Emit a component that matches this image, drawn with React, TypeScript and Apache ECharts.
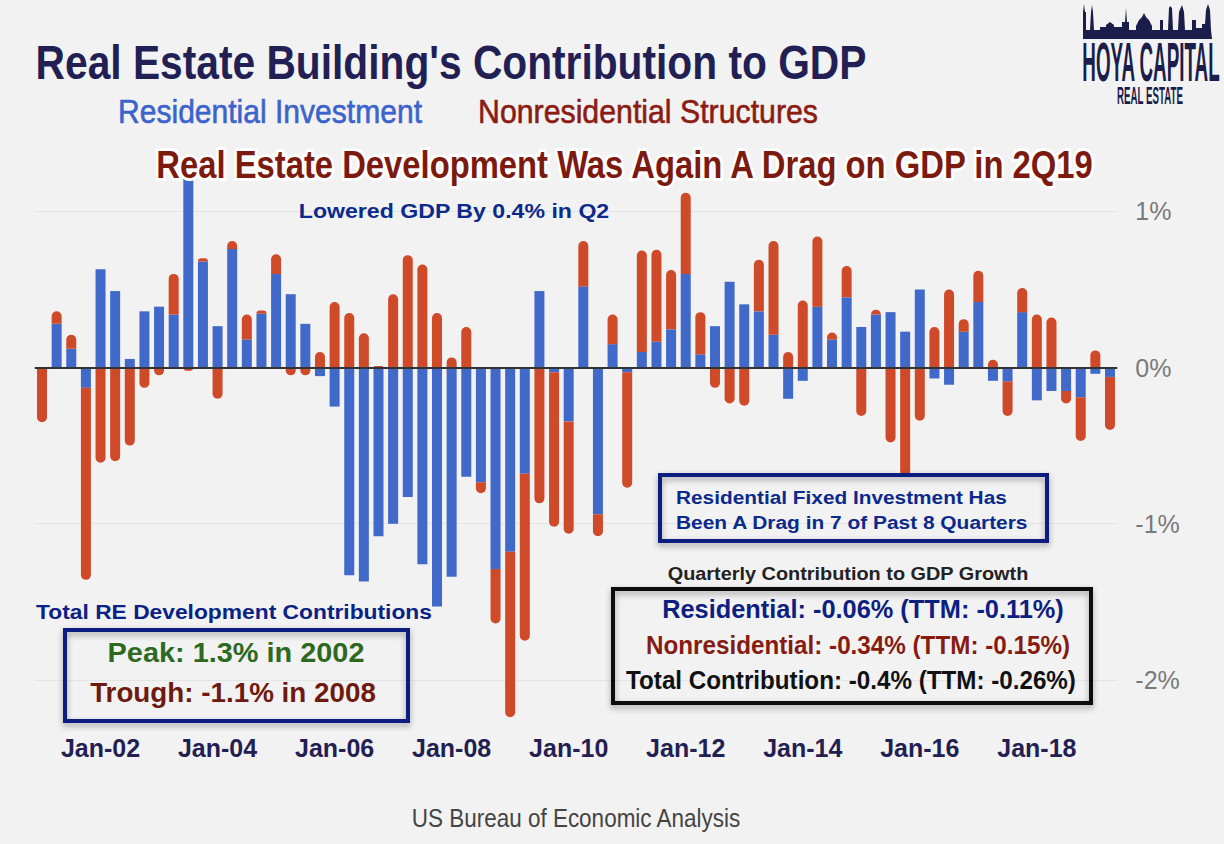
import React, { useEffect, useRef } from "react";
import * as echarts from "echarts";

// ---------- data ----------
const startYear = 2001;
const quarterMonths = ["Jan", "Apr", "Jul", "Oct"];
const seriesNames = ["Residential Investment", "Nonresidential Structures"];

// contribution to GDP growth, percentage points, 2001Q1 .. 2019Q2
const residential = [
  0.0, 0.28, 0.12, -0.13, 0.63, 0.49, 0.055, 0.36, 0.39, 0.34,
  1.3, 0.68, 0.265, 0.76, 0.18, 0.345, 0.6, 0.47, 0.28, -0.055,
  -0.25, -1.33, -1.37, -1.08, -1.0, -0.83, -1.26, -1.53, -1.34, -0.7,
  -0.735, -1.29, -1.18, -0.68, 0.49, -0.03, -0.345, 0.52, -0.94, 0.15,
  -0.03, 0.1, 0.165, 0.245, 0.6, 0.085, 0.265, 0.55, 0.405, 0.36,
  0.21, -0.2, -0.085, 0.39, 0.18, 0.45, 0.26, 0.34, 0.355, 0.23,
  0.5, -0.07, -0.11, 0.23, 0.42, -0.085, -0.09, 0.355, -0.21, -0.15,
  -0.15, -0.19, -0.04, -0.06,
];
const nonresidential = [
  -0.35, 0.08, 0.09, -1.23, -0.61, -0.6, -0.5, -0.13, -0.05, 0.26,
  -0.02, 0.02, -0.2, 0.05, 0.16, 0.02, 0.125, -0.05, -0.05, 0.1,
  0.42, 0.35, 0.22, 0.01, 0.47, 0.72, 0.66, 0.35, 0.065, 0.26,
  -0.07, -0.35, -1.06, -1.07, -0.87, -0.99, -0.72, 0.29, -0.14, 0.19,
  -0.74, 0.65, 0.59, 0.38, 0.52, 0.27, -0.13, -0.23, -0.245, 0.33,
  0.6, 0.1, 0.43, 0.45, 0.045, 0.2, -0.31, 0.03, -0.48, -0.7,
  -0.34, 0.26, 0.5, 0.08, 0.2, 0.05, -0.22, 0.155, 0.34, 0.32,
  -0.08, -0.28, 0.11, -0.34,
];
const yTickValues = [-2, -1, 0, 1];
const yMin = -2.3;
const yMax = 1.4;

const categories = residential.map(
  (_, i) =>
    `${quarterMonths[i % 4]}-${String((startYear + Math.floor(i / 4)) % 100).padStart(2, "0")}`
);

// ---------- helpers ----------
const BASE_FAMILY = "'Liberation Sans', Arial, Helvetica, sans-serif";

let measureCtx: CanvasRenderingContext2D | null = null;
function measure(text: string, font: string): number {
  if (!measureCtx) measureCtx = document.createElement("canvas").getContext("2d");
  if (!measureCtx) return 1;
  measureCtx.font = font;
  return measureCtx.measureText(text).width || 1;
}

function fitText(
  text: string,
  x: number,
  y: number,
  width: number,
  size: number,
  weight: string,
  color: string,
  align: "left" | "center" = "center",
  extra: any = {}
) {
  const font = `${weight} ${size}px ${BASE_FAMILY}`;
  const w = measure(text, font);
  return {
    type: "text",
    x,
    y,
    scaleX: width / w,
    z: 100,
    style: {
      text,
      fill: color,
      fontSize: size,
      fontWeight: weight,
      fontFamily: BASE_FAMILY,
      textAlign: align,
      textVerticalAlign: "middle",
      ...extra,
    },
  };
}

function box(x: number, y: number, w: number, h: number, color: string) {
  return {
    type: "rect",
    z: 90,
    shape: { x, y, width: w, height: h },
    style: {
      fill: "transparent",
      stroke: color,
      lineWidth: 4,
      shadowBlur: 6,
      shadowColor: "rgba(0,0,0,0.35)",
      shadowOffsetY: 3,
    },
  };
}

const skyline = [
  [1083, 39], [1083, 12], [1084, 4], [1085, 12], [1086, 12], [1086, 30], [1090, 30], [1091, 12],
  [1092, 5], [1093, 12], [1094, 30], [1100, 30], [1100, 27], [1106, 27], [1106, 25], [1110, 22],
  [1114, 25], [1114, 27], [1122, 27], [1122, 22], [1125, 22], [1126, 8], [1127, 22], [1129, 22],
  [1129, 30], [1136, 30], [1136, 26], [1139, 20], [1142, 17], [1144, 13], [1146, 17], [1149, 20],
  [1152, 26], [1152, 30], [1160, 30], [1160, 20], [1163, 20], [1163, 30], [1168, 30], [1169, 8],
  [1170, 6], [1172, 8], [1173, 30], [1178, 30], [1179, 12], [1182, 5], [1184, 12], [1185, 30],
  [1192, 30], [1192, 20], [1196, 20], [1196, 28], [1202, 28], [1202, 24], [1205, 24], [1206, 10],
  [1208, 4], [1210, 10], [1211, 30], [1212, 39],
];

export default function App() {
  const ref = useRef<HTMLDivElement>(null);

  useEffect(() => {
    if (!ref.current) return;
    const chart = echarts.init(ref.current, undefined, { renderer: "svg" });

    const splitColors: string[] = [];
    for (let i = 0; i < 10; i++) splitColors.push("transparent");
    // lines at integer percents: index of -2 from -2.3 is 3, then every 10
    splitColors[Math.round((yTickValues[0] - yMin) / 0.1) % 10] = "#e4e4e4";

    const option: any = {
      animation: false,
      backgroundColor: "#f2f2f2",
      grid: { left: 34.7, right: 106.7, top: 149, bottom: 117.4, containLabel: false },
      xAxis: {
        type: "category",
        data: categories,
        axisLine: { show: false },
        axisTick: { show: false },
        splitLine: { show: false },
        axisLabel: {
          interval: (i: number) => i % 8 === 4,
          color: "#241f52",
          fontWeight: "bold",
          fontSize: 25,
          fontFamily: BASE_FAMILY,
          margin: 9,
        },
      },
      yAxis: {
        type: "value",
        position: "right",
        min: yMin,
        max: yMax,
        interval: 0.1,
        axisLine: { show: false },
        axisTick: { show: false },
        splitLine: { show: true, lineStyle: { color: splitColors, width: 1 } },
        axisLabel: {
          margin: 18,
          color: "#7a7a7a",
          fontSize: 25,
          fontFamily: BASE_FAMILY,
          formatter: (v: number) => {
            const r = Math.round(v);
            return Math.abs(v - r) < 1e-6 && yTickValues.indexOf(r) >= 0 ? `${r}%` : "";
          },
        },
      },
      series: [
        {
          name: seriesNames[0],
          type: "bar",
          stack: "re",
          barWidth: 10,
          data: residential,
          itemStyle: { color: "#4169c9" },
        },
        {
          name: seriesNames[1],
          type: "bar",
          stack: "re",
          barWidth: 10,
          data: nonresidential.map((v) => ({
            value: v,
            itemStyle: { borderRadius: v >= 0 ? [5, 5, 0, 0] : [0, 0, 5, 5] },
          })),
          itemStyle: { color: "#cf4a29" },
          markLine: {
            silent: true,
            symbol: "none",
            label: { show: false },
            lineStyle: { color: "#333333", width: 2, type: "solid" },
            data: [{ yAxis: 0 }],
          },
        },
      ],
      graphic: [
        // title & legend-like subtitles
        fitText("Real Estate Building's Contribution to GDP", 451, 62, 831, 49, "bold", "#221f55"),
        fitText(seriesNames[0], 270, 112, 304, 33, "normal", "#3c63cb", "center", { stroke: "#3c63cb", lineWidth: 0.6 }),
        fitText(seriesNames[1], 648, 112, 340, 33, "normal", "#8b1c13", "center", { stroke: "#8b1c13", lineWidth: 0.6 }),
        fitText("Real Estate Development Was Again A Drag on GDP in 2Q19", 624.5, 165, 941, 38, "bold", "#7d1a0f", "center", {
          stroke: "#ffffff",
          lineWidth: 6,
          shadowBlur: 5,
          shadowColor: "rgba(0,0,0,0.45)",
          shadowOffsetY: 2,
        }),
        fitText("Lowered GDP By 0.4% in Q2", 454, 211, 311, 21, "bold", "#0c2a8c"),
        // left annotation
        fitText("Total RE Development Contributions", 234, 612, 396, 20, "bold", "#0a2285"),
        box(65, 630, 343, 91, "#0d1e80"),
        fitText("Peak: 1.3% in 2002", 236, 653, 257, 27, "bold", "#2d6a1f"),
        fitText("Trough: -1.1% in 2008", 233, 693, 286, 27, "bold", "#6e1a0e"),
        // right annotations
        box(660, 475, 387, 66, "#0d1e80"),
        fitText("Residential Fixed Investment Has", 676, 497, 331, 19, "bold", "#0b2a8c", "left"),
        fitText("Been A Drag in 7 of Past 8 Quarters", 676, 522, 353, 19, "bold", "#0b2a8c", "left"),
        fitText("Quarterly Contribution to GDP Growth", 848, 573, 361, 19, "bold", "#222222"),
        box(613, 589, 478, 114, "#111111"),
        fitText("Residential: -0.06% (TTM: -0.11%)", 863, 609, 402, 26, "bold", "#0c2080"),
        fitText("Nonresidential: -0.34% (TTM: -0.15%)", 858, 645, 424, 26, "bold", "#861b10"),
        fitText("Total Contribution: -0.4% (TTM: -0.26%)", 851, 680, 450, 26, "bold", "#111111"),
        // source
        fitText("US Bureau of Economic Analysis", 576, 818, 330, 26, "normal", "#444444"),
        // logo
        {
          type: "polygon",
          z: 100,
          shape: { points: skyline },
          style: { fill: "#1b1d4a" },
        },
        fitText("HOYA CAPITAL", 1151, 62, 138, 56, "bold", "#1b1d4a"),
        fitText("REAL ESTATE", 1150, 95, 66, 24, "bold", "#1b1d4a"),
      ],
    };

    chart.setOption(option);
    return () => chart.dispose();
  }, []);

  return (
    <div
      ref={ref}
      style={{ position: "absolute", left: 0, top: 0, width: 1224, height: 844 }}
    />
  );
}
